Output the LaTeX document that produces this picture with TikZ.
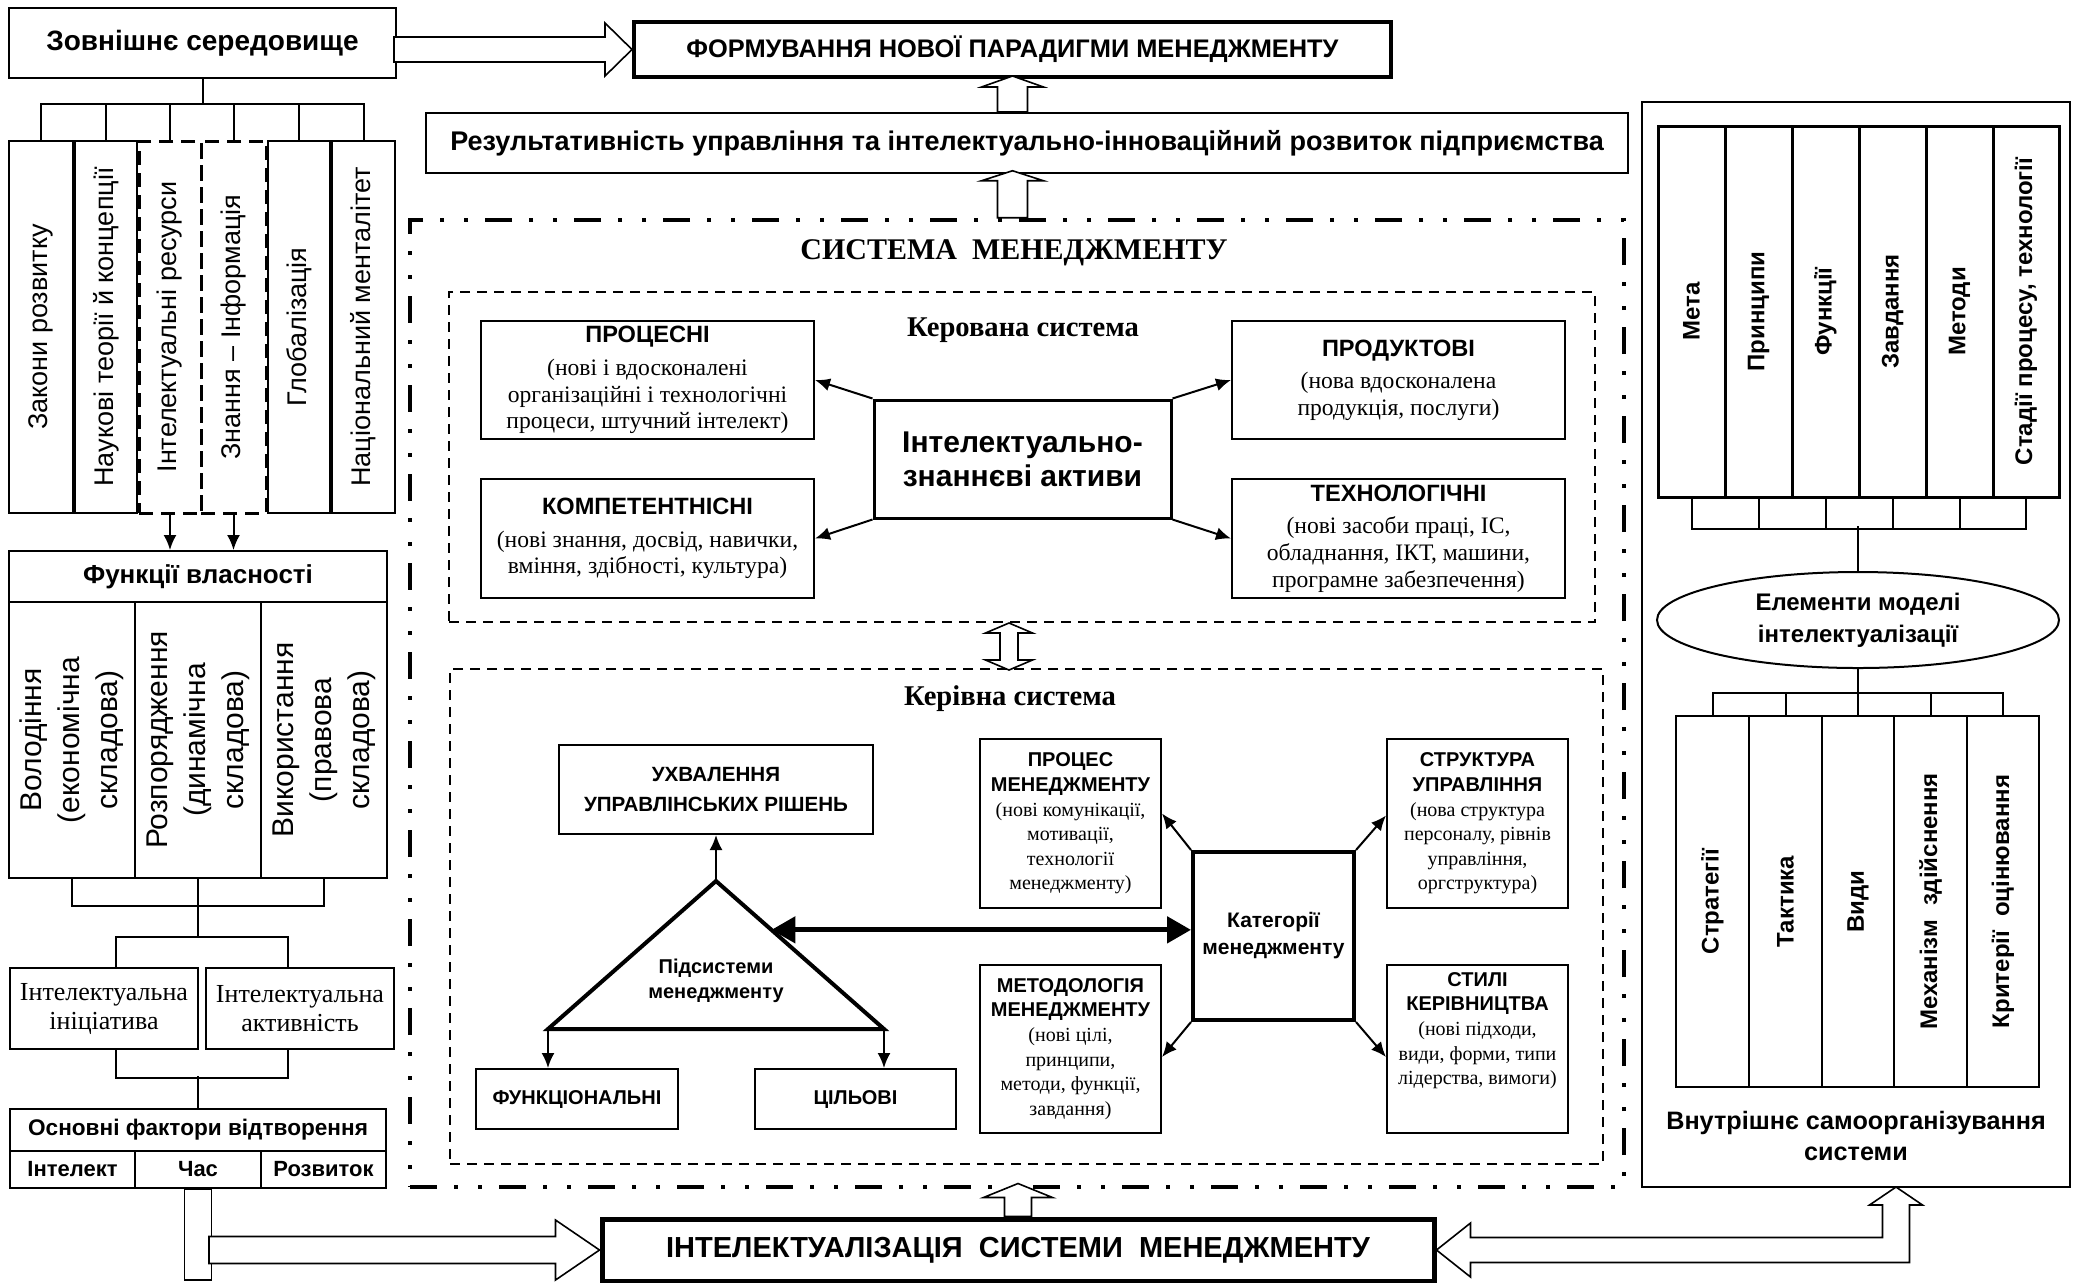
\documentclass[tikz,border=0pt]{standalone}
\usepackage{fontspec}
\setmainfont{Liberation Serif}
\setsansfont{Liberation Sans}
\usepackage{tikz}
\usetikzlibrary{calc,arrows.meta,shapes.geometric}
\newcommand{\setsz}[2]{\fontsize{#1}{#2}\selectfont}
\newcommand{\ttl}[1]{{\sffamily\bfseries #1}}
\tikzstyle{every node}=[inner sep=0pt, align=center]
\tikzset{rect/.style n args={4}{minimum width={(#3-#1)*0.5pt}, minimum height={(#4-#2)*0.5pt}, at={({(#1+#3)/2},{(#2+#4)/2})}}}
\tikzstyle{box}=[draw, line width=1pt]
\tikzstyle{dbox}=[draw, line width=1.5pt, dash pattern=on 7pt off 4pt]
\tikzstyle{subframe}=[draw, line width=1pt, dash pattern=on 5pt off 3.5pt]
\tikzstyle{sysframe}=[draw, line width=2.25pt, dash pattern=on 13.5pt off 8.5pt on 2pt off 10pt on 2pt off 8.5pt]
\tikzstyle{hollow}=[draw, fill=white, line width=0.8pt, line join=miter]
\tikzstyle{arr}=[line width=1pt, -{Latex[length=7.5pt,width=6.5pt]}]
\tikzstyle{vt}=[rotate=90, font=\sffamily\setsz{13.5}{16}]
\tikzstyle{vtb}=[rotate=90, font=\sffamily\bfseries\setsz{12}{14}]
\tikzstyle{descr}=[font=\rmfamily\setsz{11.8}{13.3}]
\tikzstyle{cat}=[font=\rmfamily\setsz{10}{12.3}]

\begin{document}
\begin{tikzpicture}[x=0.5pt, y=-0.5pt]
    \fill[white] (0,0) rectangle (2073,1282);
    \useasboundingbox (0,0) rectangle (2073,1282);
% Left column: environment
    \node[box, rect={9}{8}{396}{78}, font=\sffamily\bfseries\setsz{14}{17}] (zovn) {Зовнішнє середовище};
    \node[box, rect={9}{141}{73}{513}] (b1) {};
    \node[box, rect={75}{141}{137}{513}] (b2) {};
    \node[dbox, rect={139}{141}{201}{513}] (b3) {};
    \node[dbox, rect={201}{141}{266}{513}] (b4) {};
    \node[box, rect={268}{141}{330}{513}] (b5) {};
    \node[box, rect={332}{141}{395}{513}] (b6) {};
    \node[vt] (tb1) at (b1) {Закони розвитку};
    \node[vt] (tb2) at (b2) {Наукові теорії й концепції};
    \node[vt] (tb3) at (b3) {Інтелектуальні ресурси};
    \node[vt] (tb4) at (b4) {Знання – Інформація};
    \node[vt] (tb5) at (b5) {Глобалізація};
    \node[vt] (tb6) at (b6) {Національний менталітет};
    \draw[line width=1pt] (zovn.south) -- ++(0,25) coordinate (busA);
    \draw[line width=1pt] (b1.north) |- (busA) -| (b6.north);
    \draw[line width=1pt] (b2.north) -- (b2.north |- busA);
    \draw[line width=1pt] (b3.north) -- (b3.north |- busA);
    \draw[line width=1pt] (b4.north) -- (b4.north |- busA);
    \draw[line width=1pt] (b5.north) -- (b5.north |- busA);
% Left column: ownership
    \node[box, rect={9}{551}{387}{602}, font=\sffamily\bfseries\setsz{13}{15}] (func) {Функції власності};
    \draw[arr] (b3.south) -- (b3.south |- func.north);
    \draw[arr] (b4.south) -- (b4.south |- func.north);
    \node[box, rect={9}{602}{135}{878}] (f1) {};
    \node[box, rect={135}{602}{261}{878}] (f2) {};
    \node[box, rect={261}{602}{387}{878}] (f3) {};
    \node[rotate=90, font=\sffamily\setsz{15}{19}] (tf1) at (f1) {Володіння\\(економічна\\складова)};
    \node[rotate=90, font=\sffamily\setsz{15}{19}] (tf2) at (f2) {Розпорядження\\(динамічна\\складова)};
    \node[rotate=90, font=\sffamily\setsz{15}{19}] (tf3) at (f3) {Використання\\(правова\\складова)};
    \node[box, rect={10}{968}{198}{1049}, font=\rmfamily\setsz{13}{14.5}] (ini) {Інтелектуальна\\ініціатива};
    \node[box, rect={206}{968}{394}{1049}, font=\rmfamily\setsz{13}{14.5}] (akt) {Інтелектуальна\\активність};
    \draw[line width=1pt] (f1.south) -- ++(0,27) -| (f3.south);
    \draw[line width=1pt] (f2.south) -- ++(0,58) coordinate (busB);
    \draw[line width=1pt] ([xshift=6pt]ini.north) |- (busB) -| ([xshift=-6pt]akt.north);
    \node[box, rect={10}{1109}{386}{1151}, font=\sffamily\bfseries\setsz{11.3}{13}] (osn) {Основні фактори відтворення};
    \node[box, rect={10}{1151}{135}{1188}, font=\sffamily\bfseries\setsz{11}{13}] (intl) {Інтелект};
    \node[box, rect={135}{1151}{261}{1188}, font=\sffamily\bfseries\setsz{11}{13}] (chas) {Час};
    \node[box, rect={261}{1151}{386}{1188}, font=\sffamily\bfseries\setsz{11}{13}] (rozv) {Розвиток};
    \draw[line width=1pt] ([xshift=6pt]ini.south) -- ++(0,28) -| ([xshift=-6pt]akt.south);
    \draw[line width=1pt] (osn.north) -- ++(0,-32);
% Top row
    \node[draw, line width=2pt, rect={634}{22}{1391}{77}, font=\sffamily\bfseries\setsz{12.7}{14}] (form) {ФОРМУВАННЯ НОВОЇ ПАРАДИГМИ МЕНЕДЖМЕНТУ};
    \node[box, rect={426}{113}{1628}{173}, font=\sffamily\bfseries\setsz{13.5}{15}] (res) {Результативність управління та інтелектуально-інноваційний розвиток підприємства};
    \draw[hollow] (form.west) -- ++(-27,-26.5) -- ++(0,14) -- ++(-211,0) -- ++(0,25) -- ++(211,0) -- ++(0,14) -- cycle;
    \draw[hollow] (form.south |- res.north) ++(-15,0) -- ++(0,-25) -- ++(-16,0) -- ++(31,-11) -- ++(31,11) -- ++(-16,0) -- ++(0,25) -- cycle;
% Management system frame
    \node[sysframe, rect={410}{220}{1624}{1187}] (sys) {};
    \node[font=\rmfamily\bfseries\setsz{15}{17}] (systitle) at (1014,253) {СИСТЕМА\ \ МЕНЕДЖМЕНТУ};
    \draw[hollow] (form.south |- sys.north) ++(-15,0) -- ++(0,-37) -- ++(-16,0) -- ++(31,-10) -- ++(31,10) -- ++(-16,0) -- ++(0,37) -- cycle;
% Managed system
    \node[subframe, rect={449}{292}{1595}{622}] (kerov) {};
    \node[font=\rmfamily\bfseries\setsz{14.3}{16}] (kerovtitle) at (1023,330) {Керована система};
    \node[box, rect={481}{321}{814}{439}, descr] (proc) {\ttl{ПРОЦЕСНІ}\\[3pt](нові і вдосконалені\\організаційні і технологічні\\процеси, штучний інтелект)};
    \node[box, rect={481}{479}{814}{598}, descr] (komp) {\ttl{КОМПЕТЕНТНІСНІ}\\[3pt](нові знання, досвід, навички,\\вміння, здібності, культура)};
    \node[box, rect={1232}{321}{1565}{439}, descr] (prod) {\ttl{ПРОДУКТОВІ}\\[3pt](нова вдосконалена\\продукція, послуги)};
    \node[box, rect={1232}{479}{1565}{598}, descr] (tech) {\ttl{ТЕХНОЛОГІЧНІ}\\[3pt](нові засоби праці, ІС,\\обладнання, ІКТ, машини,\\програмне забезпечення)};
    \node[draw, line width=1.5pt, rect={874}{400}{1171}{518}, font=\sffamily\bfseries\setsz{15}{17}] (cen) {Інтелектуально-\\знаннєві активи};
    \draw[arr] (cen.north west) -- (proc.east);
    \draw[arr] (cen.south west) -- (komp.east);
    \draw[arr] (cen.north east) -- (prod.west);
    \draw[arr] (cen.south east) -- (tech.west);
% Managing system
    \node[subframe, rect={450}{669}{1603}{1164}] (keriv) {};
    \node[font=\rmfamily\bfseries\setsz{14.3}{16}] (kerivtitle) at (1010,699) {Керівна система};
    \draw[hollow] ([xshift=-6.5pt]kerov.south) -- ++(23.5,10) -- ++(-14.5,0) -- ++(0,27) -- ++(14.5,0) -- ++(-23.5,10) -- ++(-23.5,-10) -- ++(14.5,0) -- ++(0,-27) -- ++(-14.5,0) -- cycle;
    \node[box, rect={559}{745}{873}{834}, font=\sffamily\bfseries\setsz{10.3}{15}] (uxv) {УХВАЛЕННЯ\\УПРАВЛІНСЬКИХ РІШЕНЬ};
    \coordinate (apex) at (716,881);
    \coordinate (bl) at (548,1029);
    \coordinate (br) at (884,1029);
    \draw[line width=2pt, line join=miter] (apex) -- (bl) -- (br) -- cycle;
    \node[font=\sffamily\bfseries\setsz{10}{12.5}] (pids) at (716,981) {Підсистеми\\менеджменту};
    \node[box, rect={476}{1069}{678}{1129}, font=\sffamily\bfseries\setsz{10}{12}] (funk) {ФУНКЦІОНАЛЬНІ};
    \node[box, rect={755}{1069}{956}{1129}, font=\sffamily\bfseries\setsz{10}{12}] (cil) {ЦІЛЬОВІ};
    \draw[arr] (apex) -- (uxv.south);
    \draw[arr] (bl) -- (bl |- funk.north);
    \draw[arr] (br) -- (br |- cil.north);
    \node[draw, line width=2pt, rect={1193}{852}{1354}{1020}, font=\sffamily\bfseries\setsz{10.5}{13.5}] (kat) {Категорії\\менеджменту};
    \node[box, rect={980}{739}{1161}{908}, cat] (pm) {\ttl{ПРОЦЕС}\\\ttl{МЕНЕДЖМЕНТУ}\\(нові комунікації,\\мотивації,\\технології\\менеджменту)};
    \node[box, rect={980}{965}{1161}{1133}, cat] (met) {\ttl{МЕТОДОЛОГІЯ}\\\ttl{МЕНЕДЖМЕНТУ}\\(нові цілі,\\принципи,\\методи, функції,\\завдання)};
    \node[box, rect={1387}{739}{1568}{908}, cat] (str) {\ttl{СТРУКТУРА}\\\ttl{УПРАВЛІННЯ}\\(нова структура\\персоналу, рівнів\\управління,\\оргструктура)};
    \node[box, rect={1387}{965}{1568}{1133}] (sty) {};
    \node[cat, anchor=north] (styT) at ([yshift=-4pt]sty.north) {\ttl{СТИЛІ}\\\ttl{КЕРІВНИЦТВА}\\(нові підходи,\\види, форми, типи\\лідерства, вимоги)};
    \coordinate (tside) at ($(apex)!0.33!(br)$);
    \draw[line width=2.5pt, {Triangle[length=12pt,width=13pt]}-{Triangle[length=12pt,width=13pt]}] (tside) -- (tside -| kat.west);
    \draw[arr] (kat.north west) -- ([yshift=5pt]pm.east);
    \draw[arr] (kat.south west) -- ([yshift=-4pt]met.east);
    \draw[arr] (kat.north east) -- ([yshift=4pt]str.west);
    \draw[arr] (kat.south east) -- ([yshift=-4pt]sty.west);
% Intellectualization
    \node[draw, line width=2.5pt, rect={602}{1219}{1434}{1281}, font=\sffamily\bfseries\setsz{14.5}{16}] (intel) {ІНТЕЛЕКТУАЛІЗАЦІЯ\ \ СИСТЕМИ\ \ МЕНЕДЖМЕНТУ};
    \draw[hollow] (intel.north) ++(-13.5,0) -- ++(0,-19) -- ++(-21,0) -- ++(34.5,-14) -- ++(34.5,14) -- ++(-21,0) -- ++(0,19) -- cycle;
    \draw[hollow] (chas.south) ++(-13.5,0) rectangle ++(27,91);
    \draw[hollow] (intel.west) -- ++(-44,-30) -- ++(0,16.5) -- ++(-346.5,0) -- ++(0,27) -- ++(346.5,0) -- ++(0,16.5) -- cycle;
% Right panel
    \node[box, rect={1642}{102}{2070}{1187}] (panel) {};
    \node[draw, line width=1.5pt, rect={1658}{126}{1725}{497}] (m1) {};
    \node[draw, line width=1.5pt, rect={1725}{126}{1792}{497}] (m2) {};
    \node[draw, line width=1.5pt, rect={1792}{126}{1859}{497}] (m3) {};
    \node[draw, line width=1.5pt, rect={1859}{126}{1926}{497}] (m4) {};
    \node[draw, line width=1.5pt, rect={1926}{126}{1993}{497}] (m5) {};
    \node[draw, line width=1.5pt, rect={1993}{126}{2059}{497}] (m6) {};
    \node[vtb] (tm1) at (m1) {Мета};
    \node[vtb] (tm2) at (m2) {Принципи};
    \node[vtb] (tm3) at (m3) {Функції};
    \node[vtb] (tm4) at (m4) {Завдання};
    \node[vtb] (tm5) at (m5) {Методи};
    \node[vtb] (tm6) at (m6) {Стадії процесу, технології};
    \node[draw, ellipse, line width=1pt, minimum width=201pt, minimum height=48pt, font=\sffamily\bfseries\setsz{12}{16}] (elem) at (1858,620) {Елементи моделі\\інтелектуалізації};
    \draw[line width=1pt] (m1.south) -- ++(0,30) -| (m6.south);
    \draw[line width=1pt] (m2.south) -- ++(0,30);
    \draw[line width=1pt] (m3.south) -- ++(0,30);
    \draw[line width=1pt] (m4.south) -- ++(0,30);
    \draw[line width=1pt] (m5.south) -- ++(0,30);
    \draw[line width=1pt] (elem.north) -- ++(0,-45);
    \node[box, rect={1676}{716}{1749}{1087}] (s1) {};
    \node[box, rect={1749}{716}{1822}{1087}] (s2) {};
    \node[box, rect={1822}{716}{1894}{1087}] (s3) {};
    \node[box, rect={1894}{716}{1967}{1087}] (s4) {};
    \node[box, rect={1967}{716}{2039}{1087}] (s5) {};
    \node[vtb] (ts1) at (s1) {Стратегії};
    \node[vtb] (ts2) at (s2) {Тактика};
    \node[vtb] (ts3) at (s3) {Види};
    \node[vtb] (ts4) at (s4) {Механізм\hspace{7pt}здійснення};
    \node[vtb] (ts5) at (s5) {Критерії\hspace{7pt}оцінювання};
    \draw[line width=1pt] (elem.south) -- ++(0,26);
    \draw[line width=1pt] (s1.north) -- ++(0,-22) -| (s5.north);
    \draw[line width=1pt] (s2.north) -- ++(0,-22);
    \draw[line width=1pt] (s3.north) -- ++(0,-22);
    \draw[line width=1pt] (s4.north) -- ++(0,-22);
    \node[font=\sffamily\bfseries\setsz{12.6}{15.5}] (selforg) at (1856,1136) {Внутрішнє самоорганізування\\системи};
    \draw[hollow] (intel.east) -- ++(34,-27) -- ++(0,14.5) -- ++(412,0) -- ++(0,-32.5) -- ++(-13,0) -- ++(26.5,-18) -- ++(26.5,18) -- ++(-13,0) -- ++(0,57.5) -- ++(-439,0) -- ++(0,14.5) -- cycle;
\end{tikzpicture}
\end{document}
